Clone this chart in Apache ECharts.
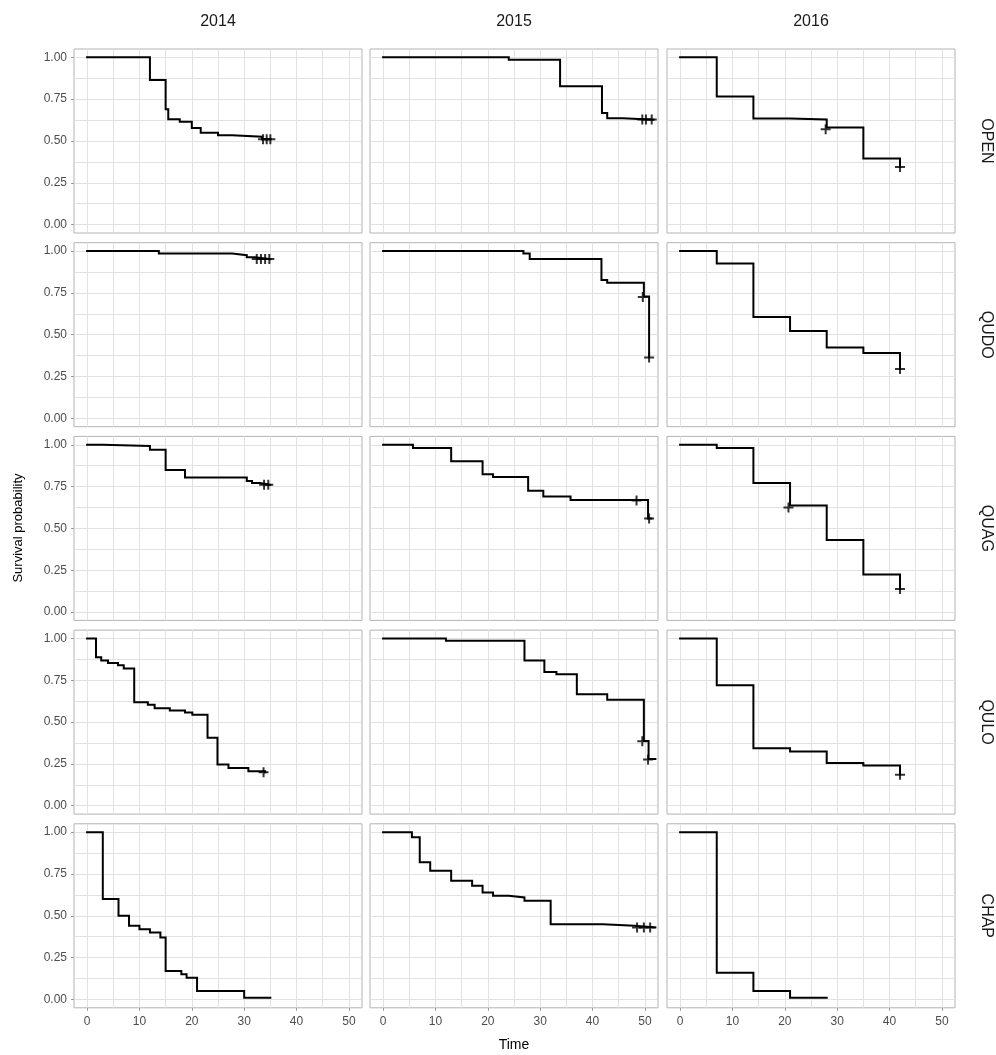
<!DOCTYPE html>
<html><head><meta charset="utf-8">
<script src="https://cdn.jsdelivr.net/npm/echarts@6/dist/echarts.min.js"></script>
<style>html,body{margin:0;padding:0;background:#fff}#c{width:996px;height:1055px}</style>
</head><body><div id="c"></div>
<script>
const years = ['2014', '2015', '2016'];
const sites = ['OPEN', 'QUDO', 'QUAG', 'QULO', 'CHAP'];
const xTickLabels = [0, 10, 20, 30, 40, 50];
const xGridValues = [0, 5, 10, 15, 20, 25, 30, 35, 40, 45, 50];
const yTickLabels = [0, 0.25, 0.5, 0.75, 1];
const yGridValues = [0, 0.125, 0.25, 0.375, 0.5, 0.625, 0.75, 0.875, 1];

// survival curves: [time, survival probability]
const OPEN_2014 = [[0,1],[12,0.865],[15,0.69],[15.5,0.63],[17.7,0.615],[20,0.578],[21.7,0.55],[25,0.535],[27.7,0.525],[33.4,0.51],[35,0.51]];
const OPEN_2015 = [[0,1],[24,0.985],[33.8,0.828],[41.8,0.667],[42.8,0.636],[45.8,0.628],[51.6,0.628]];
const OPEN_2016 = [[0,1],[7,0.766],[14,0.634],[21,0.628],[28,0.58],[35,0.396],[42,0.345]];
const QUDO_2014 = [[0,1],[13.7,0.986],[27.7,0.975],[30.5,0.963],[32,0.952],[35,0.952]];
const QUDO_2015 = [[0,1],[26.8,0.985],[28,0.953],[41.7,0.827],[42.8,0.81],[49.8,0.728],[50.8,0.363]];
const QUDO_2016 = [[0,1],[7,0.925],[14,0.606],[21,0.522],[28,0.423],[35,0.39],[42,0.295]];
const QUAG_2014 = [[0,1],[3,0.993],[12,0.97],[15,0.849],[18.7,0.804],[30.5,0.784],[31.5,0.771],[33,0.761],[35,0.761]];
const QUAG_2015 = [[0,1],[5.7,0.98],[13,0.902],[19,0.824],[21,0.808],[27.7,0.725],[30.6,0.69],[35.8,0.67],[50.6,0.559],[51.2,0.559]];
const QUAG_2016 = [[0,1],[7,0.98],[14,0.771],[21,0.637],[28,0.431],[35,0.225],[42,0.137]];
const QULO_2014 = [[0,1],[1.7,0.888],[2.7,0.868],[4,0.853],[5.9,0.84],[7,0.82],[9,0.619],[11.6,0.603],[12.9,0.583],[15.8,0.57],[18.7,0.558],[20.1,0.544],[23,0.407],[24.9,0.246],[27,0.226],[30.8,0.206],[34,0.2]];
const QULO_2015 = [[0,1],[12,0.986],[27,0.868],[30.8,0.8],[33.1,0.786],[37,0.666],[42.8,0.633],[49.8,0.387],[50.7,0.279],[52,0.279]];
const QULO_2016 = [[0,1],[7,0.721],[14,0.344],[21,0.324],[28,0.255],[35,0.24],[42,0.185]];
const CHAP_2014 = [[0,1],[3,0.6],[6,0.5],[8,0.44],[10,0.42],[12,0.4],[14,0.37],[15,0.17],[18,0.15],[19,0.13],[21,0.05],[30,0.01],[35,0.01]];
const CHAP_2015 = [[0,1],[5.5,0.97],[7,0.82],[9,0.77],[13,0.71],[17,0.68],[19,0.64],[21,0.62],[24,0.61],[27,0.59],[32,0.45],[42,0.44],[48,0.43],[52,0.43]];
const CHAP_2016 = [[0,1],[7,0.16],[14,0.05],[21,0.01],[28,0.01]];

// censored observations: [time, survival probability]
const OPEN_2014_cens = [[33.6,0.51],[34.3,0.51],[35,0.51]];
const OPEN_2015_cens = [[49.5,0.628],[50.2,0.628],[51.3,0.628]];
const OPEN_2016_cens = [[27.8,0.57],[42,0.345]];
const QUDO_2014_cens = [[32.4,0.952],[33.2,0.952],[34,0.952],[34.8,0.952]];
const QUDO_2015_cens = [[49.6,0.725],[50.8,0.363]];
const QUDO_2016_cens = [[42,0.295]];
const QUAG_2014_cens = [[33.8,0.761],[34.6,0.761]];
const QUAG_2015_cens = [[48.4,0.667],[50.8,0.559]];
const QUAG_2016_cens = [[20.7,0.625],[42,0.137]];
const QULO_2014_cens = [[33.7,0.2]];
const QULO_2015_cens = [[49.5,0.385],[50.6,0.277]];
const QULO_2016_cens = [[42,0.185]];
const CHAP_2014_cens = [];
const CHAP_2015_cens = [[48.5,0.43],[49.8,0.43],[51,0.43]];
const CHAP_2016_cens = [];

const curves = {
  OPEN: [OPEN_2014, OPEN_2015, OPEN_2016],
  QUDO: [QUDO_2014, QUDO_2015, QUDO_2016],
  QUAG: [QUAG_2014, QUAG_2015, QUAG_2016],
  QULO: [QULO_2014, QULO_2015, QULO_2016],
  CHAP: [CHAP_2014, CHAP_2015, CHAP_2016]
};
const censors = {
  OPEN: [OPEN_2014_cens, OPEN_2015_cens, OPEN_2016_cens],
  QUDO: [QUDO_2014_cens, QUDO_2015_cens, QUDO_2016_cens],
  QUAG: [QUAG_2014_cens, QUAG_2015_cens, QUAG_2016_cens],
  QULO: [QULO_2014_cens, QULO_2015_cens, QULO_2016_cens],
  CHAP: [CHAP_2014_cens, CHAP_2015_cens, CHAP_2016_cens]
};

const FONT = '"Liberation Sans", Arial, sans-serif';
const colLeft = [74, 370, 667];
const panelW = 288;
const rowTop = [49, 242.7, 436.4, 630.1, 823.8];
const panelH = 184;
const gridColor = '#e2e2e2';
const tickColor = '#9a9a9a';
const plusSymbol = 'path://M4,0H6V4H10V6H6V10H4V6H0V4H4Z';
const X_MIN = -2.5, X_MAX = 52.5, Y_MIN = -0.05, Y_MAX = 1.05;

const grid = [], xAxis = [], yAxis = [], series = [], graphic = [];
sites.forEach((site, r) => {
  years.forEach((yr, c) => {
    const g = grid.length;
    grid.push({left: colLeft[c], top: rowTop[r], width: panelW, height: panelH,
      show: true, borderColor: '#b3b3b3', borderWidth: 1, backgroundColor: '#fff', containLabel: false});
    const xi = xAxis.length;
    xAxis.push({type: 'value', gridIndex: g, min: X_MIN, max: X_MAX, position: 'bottom',
      axisLine: {show: false, onZero: false},
      axisTick: {show: false, customValues: xGridValues},
      axisLabel: {show: false},
      splitLine: {show: true, lineStyle: {color: gridColor, width: 1}}
    });
    const yi = yAxis.length;
    yAxis.push({type: 'value', gridIndex: g, min: Y_MIN, max: Y_MAX, position: 'left',
      axisLine: {show: false, onZero: false},
      axisTick: {show: false, customValues: yGridValues},
      axisLabel: {show: false},
      splitLine: {show: true, lineStyle: {color: gridColor, width: 1}}
    });
    if (r === sites.length - 1) {
      xAxis.push({type: 'value', gridIndex: g, min: X_MIN, max: X_MAX, position: 'bottom', offset: 0,
        axisLine: {show: false, onZero: false},
        axisTick: {show: true, customValues: xTickLabels, length: 3, lineStyle: {color: tickColor}},
        axisLabel: {show: true, customValues: xTickLabels, color: '#4d4d4d', fontSize: 12, fontFamily: FONT, margin: 8},
        splitLine: {show: false}
      });
    }
    if (c === 0) {
      yAxis.push({type: 'value', gridIndex: g, min: Y_MIN, max: Y_MAX, position: 'left', offset: 0,
        axisLine: {show: false, onZero: false},
        axisTick: {show: true, customValues: yTickLabels, length: 3, lineStyle: {color: tickColor}},
        axisLabel: {show: true, customValues: yTickLabels, color: '#4d4d4d', fontSize: 12, fontFamily: FONT, margin: 7,
          formatter: v => v.toFixed(2)},
        splitLine: {show: false}
      });
    }
    series.push({type: 'line', xAxisIndex: xi, yAxisIndex: yi, step: 'end',
      data: curves[site][c], showSymbol: false, symbol: 'none', silent: true, animation: false,
      lineStyle: {color: '#000', width: 2, cap: 'square', join: 'miter'}, z: 3});
    series.push({type: 'scatter', xAxisIndex: xi, yAxisIndex: yi,
      data: censors[site][c], symbol: plusSymbol, symbolSize: 10, silent: true, animation: false,
      itemStyle: {color: '#000'}, z: 4});
  });
});

years.forEach((yr, c) => {
  graphic.push({type: 'text', x: colLeft[c] + panelW / 2, y: 22,
    style: {text: yr, fill: '#1a1a1a', font: '16px ' + FONT, textAlign: 'center', textVerticalAlign: 'middle'}});
});
sites.forEach((site, r) => {
  graphic.push({type: 'text', x: 986, y: rowTop[r] + panelH / 2, rotation: -Math.PI / 2,
    style: {text: site, fill: '#1a1a1a', font: '16px ' + FONT, textAlign: 'center', textVerticalAlign: 'middle'}});
});
graphic.push({type: 'text', x: 18, y: 528, rotation: Math.PI / 2,
  style: {text: 'Survival probability', fill: '#000', font: '13px ' + FONT, textAlign: 'center', textVerticalAlign: 'middle'}});
graphic.push({type: 'text', x: 514, y: 1045,
  style: {text: 'Time', fill: '#000', font: '14px ' + FONT, textAlign: 'center', textVerticalAlign: 'middle'}});

const chart = echarts.init(document.getElementById('c'), null, {renderer: 'canvas'});
chart.setOption({
  backgroundColor: '#fff',
  animation: false,
  textStyle: {fontFamily: FONT},
  grid, xAxis, yAxis, series, graphic
});
</script></body></html>
